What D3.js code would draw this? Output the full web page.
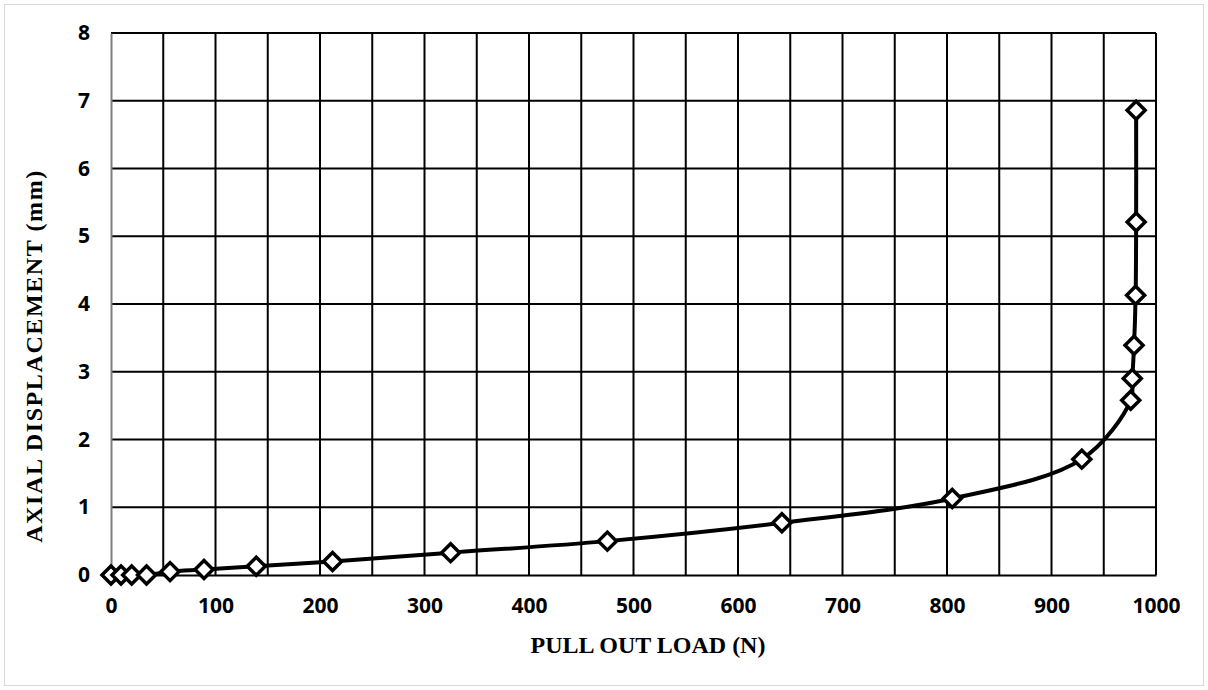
<!DOCTYPE html>
<html>
<head>
<meta charset="utf-8">
<script src="https://cdn.jsdelivr.net/npm/d3@7"></script>
<style>
  html, body { margin: 0; padding: 0; background: #fff; }
  svg { display: block; }
</style>
</head>
<body>
<svg id="chart" width="1208" height="690"></svg>
<script>
// Pull-out test: load (N) against axial displacement (mm)
const pullOutLoad = [0, 9.6, 19.8, 34, 56.5, 89, 139, 212, 325, 475, 642, 805, 929, 975.8, 977.3, 979, 980.5, 981, 981];
const axialDisplacement = [0, 0, 0, 0, 0.05, 0.08, 0.13, 0.2, 0.33, 0.5, 0.77, 1.13, 1.71, 2.58, 2.90, 3.39, 4.13, 5.21, 6.86];
const xTicks = [0, 100, 200, 300, 400, 500, 600, 700, 800, 900, 1000];
const yTicks = [0, 1, 2, 3, 4, 5, 6, 7, 8];

const svg = d3.select("#chart");
const W = 1208, H = 690;
const m = { left: 111, right: 1156, top: 33, bottom: 575 };

// outer frame
svg.append("rect")
  .attr("x", 4.5).attr("y", 4.5)
  .attr("width", W - 9).attr("height", H - 9)
  .attr("fill", "#fff").attr("stroke", "#d9d9d9").attr("stroke-width", 1);

const x = d3.scaleLinear().domain([0, 1000]).range([m.left, m.right]);
const y = d3.scaleLinear().domain([0, 8]).range([m.bottom, m.top]);

// vertical gridlines every 50 N
const xGrid = d3.range(50, 1001, 50);
svg.append("g").selectAll("line").data(xGrid).join("line")
  .attr("x1", d => x(d)).attr("x2", d => x(d))
  .attr("y1", m.top).attr("y2", m.bottom)
  .attr("stroke", "#000").attr("stroke-width", 2);

// horizontal gridlines every 1 mm
svg.append("g").selectAll("line").data(yTicks.slice(1)).join("line")
  .attr("x1", m.left).attr("x2", m.right)
  .attr("y1", d => y(d)).attr("y2", d => y(d))
  .attr("stroke", "#000").attr("stroke-width", 2);

// axes
const xAxis = svg.append("g")
  .attr("transform", `translate(0,${m.bottom})`)
  .call(d3.axisBottom(x).tickValues(xTicks).tickFormat(d3.format("d")).tickSize(0).tickPadding(23));
xAxis.select(".domain").attr("stroke", "#000").attr("stroke-width", 2);

const yAxis = svg.append("g")
  .attr("transform", `translate(${m.left},0)`)
  .call(d3.axisLeft(y).tickValues(yTicks).tickFormat(d3.format("d")).tickSize(0).tickPadding(21));
yAxis.select(".domain").attr("stroke", "#7f7f7f").attr("stroke-width", 2);

svg.selectAll(".tick text")
  .attr("font-family", "'Open Sans', 'DejaVu Sans', sans-serif")
  .attr("font-weight", "bold")
  .attr("font-size", 21)
  .attr("fill", "#000");

// axis titles
svg.append("text")
  .attr("x", 648).attr("y", 653)
  .attr("text-anchor", "middle")
  .attr("font-family", "'Liberation Serif', 'Times New Roman', serif")
  .attr("font-weight", "bold").attr("font-size", 24)
  .text("PULL OUT LOAD (N)");

svg.append("text")
  .attr("transform", `translate(42,356) rotate(-90)`)
  .attr("text-anchor", "middle")
  .attr("font-family", "'Liberation Serif', 'Times New Roman', serif")
  .attr("font-weight", "bold").attr("font-size", 24)
  .attr("letter-spacing", 1.6)
  .text("AXIAL DISPLACEMENT (mm)");

// smoothed curve with diamond markers
const pts = pullOutLoad.map((v, i) => [v, axialDisplacement[i]]);
const line = d3.line()
  .x(d => x(d[0])).y(d => y(d[1]))
  .curve(d3.curveCatmullRom.alpha(0.5));

svg.append("path")
  .datum(pts)
  .attr("d", line)
  .attr("fill", "none")
  .attr("stroke", "#000")
  .attr("stroke-width", 4);

const r = 9;
svg.append("g").selectAll("path").data(pts).join("path")
  .attr("transform", d => `translate(${x(d[0])},${y(d[1])})`)
  .attr("d", `M0,${-r}L${r},0L0,${r}L${-r},0Z`)
  .attr("fill", "#fff")
  .attr("stroke", "#000")
  .attr("stroke-width", 3.5)
  .attr("stroke-linejoin", "miter");
</script>
</body>
</html>
